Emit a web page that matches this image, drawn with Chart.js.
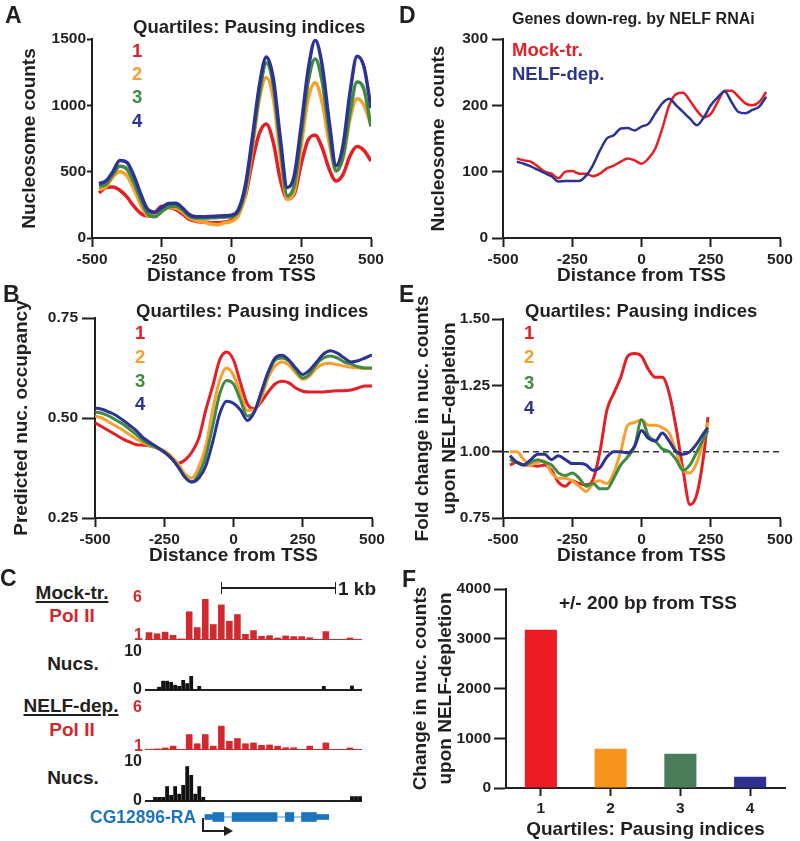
<!DOCTYPE html>
<html>
<head>
<meta charset="utf-8">
<script src="https://cdn.jsdelivr.net/npm/chart.js@4/dist/chart.umd.min.js"></script>
<style>
  body { margin: 0; background: #fff; }
  #fig { position: relative; width: 800px; height: 841px; overflow: hidden;
         font-family: 'Liberation Sans', Arial, sans-serif; font-weight: bold; color: #231f20; }
  #fig canvas { position: absolute; }
  .t { position: absolute; white-space: nowrap; line-height: 1; }
</style>
</head>
<body>
<div id="fig"></div>
<script>
// ---- data ----
const quartiles = ['1', '2', '3', '4'];

// A: nucleosome counts vs distance from TSS
const distA = [-475,-450,-425,-400,-375,-350,-325,-300,-275,-250,-225,-200,-175,-150,-125,-100,-75,-50,-25,0,
               25,50,75,100,125,150,175,200,225,250,275,300,325,350,375,400,425,450,475,500];
const nucA_q1 = [340,380,385,360,310,240,185,165,190,240,230,215,180,140,125,120,115,115,120,135,
                 200,320,580,790,860,720,440,295,330,560,740,775,680,520,430,480,620,690,660,580];
const nucA_q2 = [365,385,460,500,470,370,250,170,165,200,228,225,195,150,130,120,105,100,115,125,
                 170,330,680,1050,1210,1050,620,290,350,700,1050,1170,1020,720,510,600,900,1050,1000,850];
const nucA_q3 = [390,405,480,540,520,420,290,180,160,200,235,240,210,165,150,150,152,155,157,162,
                 200,370,720,1090,1320,1150,700,320,400,780,1180,1350,1180,800,505,620,950,1175,1120,840];
const nucA_q4 = [410,430,500,585,570,470,330,215,195,230,260,262,225,175,160,160,163,165,167,172,
                 215,400,760,1150,1365,1200,750,380,470,850,1270,1490,1300,880,545,700,1100,1370,1290,980];

// B: predicted nucleosome occupancy
const distB = [-500,-475,-450,-425,-400,-375,-350,-325,-300,-275,-250,-225,-200,-175,-150,-125,-100,-75,-50,-25,0,
               25,50,75,100,125,150,175,200,225,250,275,300,325,350,375,400,425,450,475,500];
const occB_q1 = [.488,.478,.468,.458,.448,.440,.433,.432,.430,.425,.415,.400,.387,.395,.415,.45,.52,.58,.645,.665,
                 .645,.588,.535,.523,.54,.565,.585,.592,.588,.575,.567,.565,.565,.565,.567,.568,.568,.570,.575,.580,.580];
const occB_q2 = [.505,.500,.490,.480,.470,.458,.447,.438,.430,.425,.418,.405,.385,.360,.350,.378,.43,.52,.594,.625,
                 .607,.561,.519,.52,.55,.60,.63,.640,.632,.612,.597,.605,.625,.635,.637,.633,.630,.627,.625,.624,.624];
const occB_q3 = [.515,.512,.505,.495,.485,.472,.458,.443,.433,.425,.415,.400,.378,.352,.340,.36,.405,.48,.56,.594,
                 .585,.545,.505,.515,.56,.61,.645,.650,.642,.620,.600,.610,.635,.650,.655,.650,.640,.635,.628,.625,.625];
const occB_q4 = [.525,.522,.515,.507,.495,.482,.468,.450,.438,.427,.415,.400,.378,.352,.340,.35,.38,.44,.51,.542,
                 .537,.52,.494,.515,.565,.615,.650,.657,.645,.625,.609,.620,.640,.660,.668,.662,.650,.640,.643,.650,.658];

// C: genome browser tracks (bins across the locus)
const polMock  = [1.84,1.7,1.9,1.5,1.05,4.45,2.47,6,2.85,5.3,3.27,4.1,1.63,2.1,1.38,1.46,1.17,1.42,1.34,1.34,1.2,1,1.97,1,1,1.17,1];
const polNelf  = [1,1.05,1.17,1.4,1,2.85,1.7,2.85,1.4,3.9,2.0,2.35,1.7,1.8,1.5,1.55,1.4,1.2,1.2,1,1.4,1,1.8,1,1,1.17,1];
const nucsMock = [0,0,0,0.8,2.3,2.3,2.0,1.3,1.0,2.5,1.7,3.5,0,1.0,0,0,0,0,0,0,0,0,0,0,0,0,0,
                  0,0,0,0,0,0,0,0,0,0,0,0,0,0,0,0,0,1.0,0,0,0,0,0,0,1.1,0,0];
const nucsNelf = [0,0,1.0,1.0,1.0,3.7,1.5,3.7,1.8,4.0,8.7,6.5,1.8,3.7,1.0,0,0,0,0,0,0,0,0,0,0,0,0,
                  0,0,0,0,0,0,0,0,0,0,0,0,0,0,0,0,0,0,0,0,0,0,0,0,1.2,1.2,1.2];
const locusBp = 1890;
const geneSpan = [522, 1600];
const geneUtr = [[522, 591], [1493, 1600]];
const geneCds = [[591, 687], [759, 1150], [1223, 1296], [1363, 1493]];

// D: genes down-regulated by NELF RNAi
const distD = [-450,-425,-400,-375,-350,-325,-300,-275,-250,-225,-200,-175,-150,-125,-100,-75,-50,-25,0,
               25,50,75,100,125,150,175,200,225,250,275,300,325,350,375,400,425,450];
const nucD_mock = [120,117,115,108,100,97,90,100,101,97,97,93,97,105,109,115,120,117,112,
                   120,135,165,200,217,219,207,192,182,187,205,222,222,213,203,200,205,220];
const nucD_nelf = [115,112,108,103,98,93,85,86,86,86,94,110,132,150,155,165,166,162,168,
                   172,188,203,210,200,190,180,170,182,200,212,221,205,190,188,193,198,213];

// E: fold change upon NELF depletion
const distE = [-475,-450,-425,-400,-375,-350,-325,-300,-275,-250,-225,-200,-175,-150,-125,-100,-75,-50,-25,0,
               25,50,75,100,125,150,175,200,225,240];
const foldE_q1 = [.95,.96,.95,.95,.945,.95,.93,.885,.87,.89,.88,.875,.895,1.0,1.156,1.22,1.28,1.36,1.37,1.36,
                  1.31,1.28,1.28,1.22,1.09,.93,.80,.84,.99,1.13];
const foldE_q2 = [1.0,1.0,.97,.95,.96,.965,.92,.90,.90,.89,.87,.85,.88,.89,.88,.92,1.0,1.1,1.11,1.12,
                  1.10,1.10,1.09,1.07,1.0,.93,.92,.96,1.05,1.11];
const foldE_q3 = [.97,.96,.95,.96,.97,.96,.95,.92,.91,.92,.90,.87,.88,.86,.86,.90,.95,.98,1.02,1.12,
                  1.06,1.04,1.01,1.0,.97,.93,.95,1.0,1.05,1.08];
const foldE_q4 = [.985,.96,.95,.97,.99,.99,.97,.985,.97,.955,.955,.95,.93,.94,.98,1.0,1.0,.995,1.02,1.08,
                  1.05,1.04,1.07,1.04,1.0,.99,1.0,1.03,1.07,1.09];
const foldRef = 1.0;

// F: change in nucleosome counts within +/-200 bp
const changeF = [3180, 790, 690, 225];

// ---- styles ----
const INK = '#231f20';
const RED = '#e41f26', ORANGE = '#f7a02f', GREEN = '#3f8b43', BLUE = '#2c3393';
const qColors = [RED, ORANGE, GREEN, BLUE];
const barColors = ['#ed1c24', '#f7941d', '#4a7c59', '#2e3192'];
const POL = '#d2282e', GENE = '#1c75bc';
const TICK = 15.5;

Chart.defaults.font.family = "'Liberation Sans', Arial, sans-serif";
Chart.defaults.font.weight = 'bold';
Chart.defaults.color = INK;
Chart.defaults.animation = false;
Chart.defaults.plugins.legend.display = false;
Chart.defaults.plugins.tooltip.enabled = false;

const fig = document.getElementById('fig');

function addCanvas(x, y, w, h) {
    const c = document.createElement('canvas');
    c.width = w; c.height = h;
    c.style.left = x + 'px'; c.style.top = y + 'px';
    fig.appendChild(c);
    return c.getContext('2d');
}

function txt(s, x, y, size, color, align, extra) {
    const d = document.createElement('div');
    d.className = 't';
    d.textContent = s;
    d.style.left = x + 'px';
    d.style.top = (y - size / 2) + 'px';
    d.style.fontSize = size + 'px';
    d.style.color = color || INK;
    if (align === 'center') d.style.transform = 'translateX(-50%)';
    if (align === 'right') d.style.transform = 'translateX(-100%)';
    if (extra) Object.assign(d.style, extra);
    fig.appendChild(d);
}

function rect(x, y, w, h, color) {
    const d = document.createElement('div');
    Object.assign(d.style, {position: 'absolute', left: x + 'px', top: y + 'px',
        width: w + 'px', height: h + 'px', background: color});
    fig.appendChild(d);
    return d;
}

function series(xs, ys, color, width) {
    return {
        data: xs.map((x, i) => ({x: x, y: ys[i]})),
        borderColor: color, borderWidth: width, pointRadius: 0,
        cubicInterpolationMode: 'monotone', fill: false
    };
}

function ticks(pad, fmt, step) {
    const t = {font: {size: TICK}, padding: pad, color: INK, maxRotation: 0};
    if (step) t.stepSize = step;
    if (fmt) t.callback = fmt;
    return t;
}
const plain = v => String(v);

function axis(title, tickLen, tk, titlePad, extra) {
    return Object.assign({
        ticks: tk,
        grid: {drawOnChartArea: false, drawTicks: true, tickLength: tickLen, tickWidth: 2, tickColor: INK},
        border: {color: INK, width: 2},
        title: {display: true, text: title, font: {size: 19, lineHeight: 1.2}, padding: titlePad, color: INK}
    }, extra);
}

function distAxis() {
    return axis('Distance from TSS', 9, ticks(3, plain, 250), 0, {type: 'linear', min: -500, max: 500});
}

// g: canvas box (cx, cy, cw, ch) and plot area (left, top, right, bottom) in page pixels
function panel(g, type, datasets, xAxis, yAxis, labels) {
    const ctx = addCanvas(g.cx, g.cy, g.cw, g.ch);
    xAxis.afterFit = s => { s.height = g.cy + g.ch - g.bottom; };
    yAxis.afterFit = s => { s.width = g.left - g.cx; };
    return new Chart(ctx, {
        type: type,
        data: {labels: labels, datasets: datasets},
        options: {
            responsive: false,
            layout: {padding: {left: 0, top: g.top - g.cy, right: g.cx + g.cw - g.right, bottom: 0}},
            scales: {x: xAxis, y: yAxis}
        }
    });
}

// ---- A ----
panel({cx: 0, cy: 0, cw: 391, ch: 287, left: 92, top: 39, right: 371, bottom: 238}, 'line', [
    series(distA, nucA_q4, BLUE, 3.5),
    series(distA, nucA_q3, GREEN, 3.5),
    series(distA, nucA_q2, ORANGE, 3.5),
    series(distA, nucA_q1, RED, 3.5)
], distAxis(),
   axis('Nucleosome counts', 5, ticks(1, plain, 500), {top: 18.6, bottom: 0}, {type: 'linear', min: 0, max: 1500}));

// ---- B ----
panel({cx: 0, cy: 290, cw: 392, ch: 277, left: 95, top: 318, right: 372, bottom: 518}, 'line', [
    series(distB, occB_q4, BLUE, 3),
    series(distB, occB_q3, GREEN, 3),
    series(distB, occB_q2, ORANGE, 3),
    series(distB, occB_q1, RED, 3)
], distAxis(),
   axis('Predicted nuc. occupancy', 13, ticks(4, v => v.toFixed(2), 0.25), {top: 10.6, bottom: 0}, {type: 'linear', min: 0.25, max: 0.75}));

// ---- D ----
panel({cx: 400, cy: 0, cw: 400, ch: 287, left: 503, top: 39, right: 780, bottom: 238}, 'line', [
    series(distD, nucD_nelf, BLUE, 2.5),
    series(distD, nucD_mock, RED, 2.5)
], distAxis(),
   axis('Nucleosome  counts', 11, ticks(4, plain, 100), {top: 27.6, bottom: 0}, {type: 'linear', min: 0, max: 300}));

// ---- E ----
const refE = {data: [{x: -500, y: foldRef}, {x: 500, y: foldRef}], borderColor: '#333', borderWidth: 1.5,
              borderDash: [6, 4], pointRadius: 0, fill: false};
const eY = axis(['Fold change in nuc. counts', 'upon NELF-depletion'], 11, ticks(2, v => v.toFixed(2), 0.25),
    {top: 9.7, bottom: 0}, {type: 'linear', min: 0.75, max: 1.5});
eY.title.font = {size: 19, lineHeight: 1.4};
panel({cx: 400, cy: 290, cw: 400, ch: 277, left: 503, top: 319, right: 780, bottom: 518}, 'line', [
    series(distE, foldE_q4, BLUE, 3),
    series(distE, foldE_q3, GREEN, 3),
    series(distE, foldE_q2, ORANGE, 3),
    series(distE, foldE_q1, RED, 3),
    refE
], distAxis(), eY);

// ---- F ----
const fY = axis(['Change in nuc. counts', 'upon NELF-depletion'], 12, ticks(3, plain, 1000), {top: 8.5, bottom: 0},
    {type: 'linear', min: 0, max: 4000});
fY.title.font = {size: 19, lineHeight: 1.32};
const fX = axis('Quartiles: Pausing indices', 8, ticks(3), 0, {type: 'category', offset: true});
fX.grid.offset = false;
panel({cx: 400, cy: 570, cw: 400, ch: 271, left: 506, top: 589, right: 785, bottom: 788}, 'bar', [{
    data: changeF, backgroundColor: barColors, barPercentage: 0.46, categoryPercentage: 1
}], fX, fY, quartiles);

// ---- C tracks ----
function track(x, y, w, h, vals, min, max, color, baseColor, baseWidth, pct) {
    const ctx = addCanvas(x, y, w, h + 3);
    new Chart(ctx, {
        type: 'bar',
        data: {labels: vals.map((v, i) => i), datasets: [{data: vals, backgroundColor: color, barPercentage: pct, categoryPercentage: 1}]},
        options: {
            responsive: false,
            layout: {padding: {left: 0, right: 0, top: 0, bottom: 3}},
            scales: {
                x: {display: true, ticks: {display: false}, grid: {display: false},
                    border: {color: baseColor, width: baseWidth}, afterFit: s => { s.height = 0; }},
                y: {display: false, min: min, max: max}
            }
        }
    });
}
track(145, 599, 217, 40, polMock, 1, 6, POL, POL, 1, 0.82);
track(145, 650, 217, 40, nucsMock, 0, 10, '#111', INK, 2, 0.95);
track(145, 709, 217, 40, polNelf, 1, 6, POL, POL, 1, 0.82);
track(145, 761, 217, 40, nucsNelf, 0, 10, '#111', INK, 2, 0.95);

// gene model (first dataset is drawn on top)
new Chart(addCanvas(145, 808, 217, 18), {
    type: 'bar',
    data: {labels: ['gene'], datasets: [
        {data: geneCds.map(c => ({x: c, y: 'gene'})), backgroundColor: GENE, barThickness: 9, grouped: false},
        {data: geneUtr.map(u => ({x: u, y: 'gene'})), backgroundColor: GENE, barThickness: 5, grouped: false},
        {data: [{x: geneSpan, y: 'gene'}], backgroundColor: '#8ab6e0', barThickness: 1, grouped: false}
    ]},
    options: {
        indexAxis: 'y', responsive: false,
        layout: {padding: 0},
        scales: {x: {type: 'linear', display: false, min: 0, max: locusBp}, y: {display: false}}
    }
});

// ---- text ----
txt('A', 5, 15, 23);
txt('B', 3, 294, 23);
txt('C', 0, 578, 23);
txt('D', 399, 15, 23);
txt('E', 399, 294, 23);
txt('F', 402, 579, 23);

function quartLegend(x, ty, ys) {
    txt('Quartiles: Pausing indices', x, ty, 18.5);
    quartiles.forEach((q, i) => txt(q, x - 1, ys[i], 18.5, qColors[i]));
}
quartLegend(133, 27, [51, 74, 97, 121]);
quartLegend(136, 311, [333, 357, 381, 404]);
quartLegend(525, 311, [333, 357, 383, 408]);

txt('Genes down-reg. by NELF RNAi', 512, 19, 16);
txt('Mock-tr.', 512, 50, 18.5, RED);
txt('NELF-dep.', 512, 74, 18.5, BLUE);

txt('+/- 200 bp from TSS', 559, 602, 19);

// C labels
const ul = {textDecoration: 'underline', textDecorationThickness: '1.5px', textUnderlineOffset: '2px'};
txt('Mock-tr.', 72, 592, 19, INK, 'center', ul);
txt('Pol II', 72, 615, 19, POL, 'center');
txt('Nucs.', 73, 663, 19, INK, 'center');
txt('NELF-dep.', 71, 705, 19, INK, 'center', ul);
txt('Pol II', 72, 729, 19, POL, 'center');
txt('Nucs.', 73, 777, 19, INK, 'center');
txt('6', 142, 597, 16, POL, 'right');
txt('1', 143, 635, 16, POL, 'right');
txt('10', 142, 651, 16, INK, 'right');
txt('0', 142, 689, 16, INK, 'right');
txt('6', 142, 707, 16, POL, 'right');
txt('1', 143, 746, 16, POL, 'right');
txt('10', 142, 761, 16, INK, 'right');
txt('0', 142, 800, 16, INK, 'right');
txt('CG12896-RA', 90, 818, 17.5, GENE);

// scale bar
rect(221, 587, 115, 1.5, INK);
rect(220.5, 582, 1.5, 12, INK);
rect(334.5, 582, 1.5, 12, INK);
txt('1 kb', 338, 588, 19);

// TSS arrow
rect(202, 818, 2, 14, INK);
rect(202, 830, 22, 2, INK);
const head = rect(224, 826, 0, 0, 'transparent');
Object.assign(head.style, {borderLeft: '9px solid ' + INK, borderTop: '5px solid transparent', borderBottom: '5px solid transparent'});
</script>
</body>
</html>
